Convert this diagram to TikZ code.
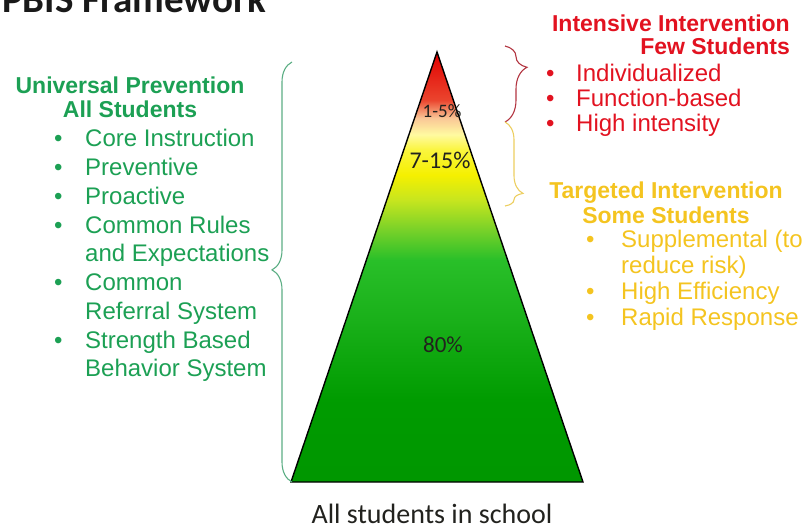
\documentclass[tikz,border=0pt]{standalone}
\usepackage{fontspec}
\setmainfont{Liberation Sans}
\newfontfamily\calibri{Carlito}
\usetikzlibrary{positioning,decorations.pathreplacing}

\definecolor{uniGreen}{RGB}{28,160,84}
\definecolor{intRed}{RGB}{226,18,32}
\definecolor{tarYellow}{RGB}{244,196,32}
\definecolor{braceGreen}{RGB}{92,174,132}
\definecolor{braceRed}{RGB}{178,52,64}
\definecolor{braceYellow}{RGB}{236,206,96}
\definecolor{pctText}{RGB}{34,34,30}

\pgfdeclareverticalshading{pyramid}{100bp}{%
  rgb(0bp)=(0,0.59,0); rgb(25bp)=(0,0.59,0); rgb(34.5bp)=(0,0.61,0);
  rgb(43.8bp)=(0.10,0.69,0.10); rgb(50.8bp)=(0.16,0.75,0.16);
  rgb(54.3bp)=(0.47,0.82,0.16); rgb(57.8bp)=(0.78,0.90,0.12);
  rgb(60.7bp)=(0.96,0.94,0); rgb(63.6bp)=(0.98,0.96,0.24);
  rgb(65.4bp)=(1,0.98,0.63); rgb(67.3bp)=(0.98,0.78,0.59);
  rgb(69.4bp)=(0.92,0.27,0.18); rgb(75bp)=(0.88,0,0); rgb(100bp)=(0.88,0,0)}

\newcommand{\blt}{\textbullet}

\tikzset{
  heading/.style={font=\fontsize{23}{#1}\selectfont\bfseries, inner sep=0pt},
  itemlist/.style={font=\fontsize{24}{#1}\selectfont, inner sep=0pt, anchor=base west},
  pct/.style={font=\calibri, text=pctText, inner sep=0pt},
  tierbrace/.style={decorate, line width=1.1pt},
}

\begin{document}
\begin{tikzpicture}[x=1pt,y=-1pt]
\useasboundingbox (0,0) rectangle (803,529);
\clip (0,0) rectangle (803,529);

% Title
\node[anchor=base west, inner sep=0pt, font=\calibri\bfseries\fontsize{39}{40}\selectfont,
  text=black!90] (title) at (2,13) {PBIS Framework};

% Pyramid
\coordinate (apex) at (437,52);
\coordinate (baseL) at (291,482);
\coordinate (baseR) at (583,482);
\shade[shading=pyramid] (apex) -- (baseL) -- (baseR) -- cycle;
\draw[line width=1.4pt, line join=miter] (apex) -- (baseL) -- (baseR) -- cycle;

\node[pct, font=\calibri\fontsize{19}{20}\selectfont] (few) at (442,111) {1-5\%};
\node[pct, font=\calibri\fontsize{24}{25}\selectfont] (some) at (440,160) {7-15\%};
\node[pct, font=\calibri\fontsize{23}{24}\selectfont] (all) at (443,345) {80\%};

\node[anchor=base, inner sep=0pt, font=\calibri\fontsize{28}{30}\selectfont, text=pctText]
  (school) at (432,523) {All students in school};

% Universal prevention
\node[heading=24, text=uniGreen, align=center, anchor=base] (unihead) at (130,118)
  {Universal Prevention\\All Students};
\node[itemlist=28.75, text=uniGreen] (unilist) at (54,147) {%
  \begin{tabular}[t]{@{}p{31pt}@{}l@{}}
  \blt & Core Instruction\\
  \blt & Preventive\\
  \blt & Proactive\\
  \blt & Common Rules\\
       & and Expectations\\
  \blt & Common\\
       & Referral System\\
  \blt & Strength Based\\
       & Behavior System
  \end{tabular}};

% Intensive intervention
\node[heading=23, text=intRed, align=right, anchor=base east] (inthead) at (790,55)
  {Intensive Intervention\\Few Students};
\node[itemlist=24.5, text=intRed] (intlist) at (546,82) {%
  \begin{tabular}[t]{@{}p{30pt}@{}l@{}}
  \blt & Individualized\\
  \blt & Function-based\\
  \blt & High intensity
  \end{tabular}};

% Targeted intervention
\node[heading=25, text=tarYellow, align=center, anchor=base] (tarhead) at (666,224)
  {Targeted Intervention\\Some Students};
\node[itemlist=25.7, text=tarYellow] (tarlist) at (586,248) {%
  \begin{tabular}[t]{@{}p{35pt}@{}l@{}}
  \blt & Supplemental (to\\
       & reduce risk)\\
  \blt & High Efficiency\\
  \blt & Rapid Response
  \end{tabular}};

% Braces
\coordinate (gbot) at (292,482);
\coordinate (gtop) at (292,62);
\coordinate (rtop) at (505,46);
\coordinate (rbot) at (505,122);
\coordinate (ytop) at (505,122);
\coordinate (ybot) at (505,206);

\draw[tierbrace, braceGreen, decoration={brace, amplitude=20pt, aspect=0.505}] (gbot) -- (gtop);
\draw[tierbrace, braceRed, decoration={brace, amplitude=22pt, aspect=0.28}] (rtop) -- (rbot);
\draw[tierbrace, braceYellow, decoration={brace, amplitude=18pt, aspect=0.85}] (ytop) -- (ybot);

\end{tikzpicture}
\end{document}
